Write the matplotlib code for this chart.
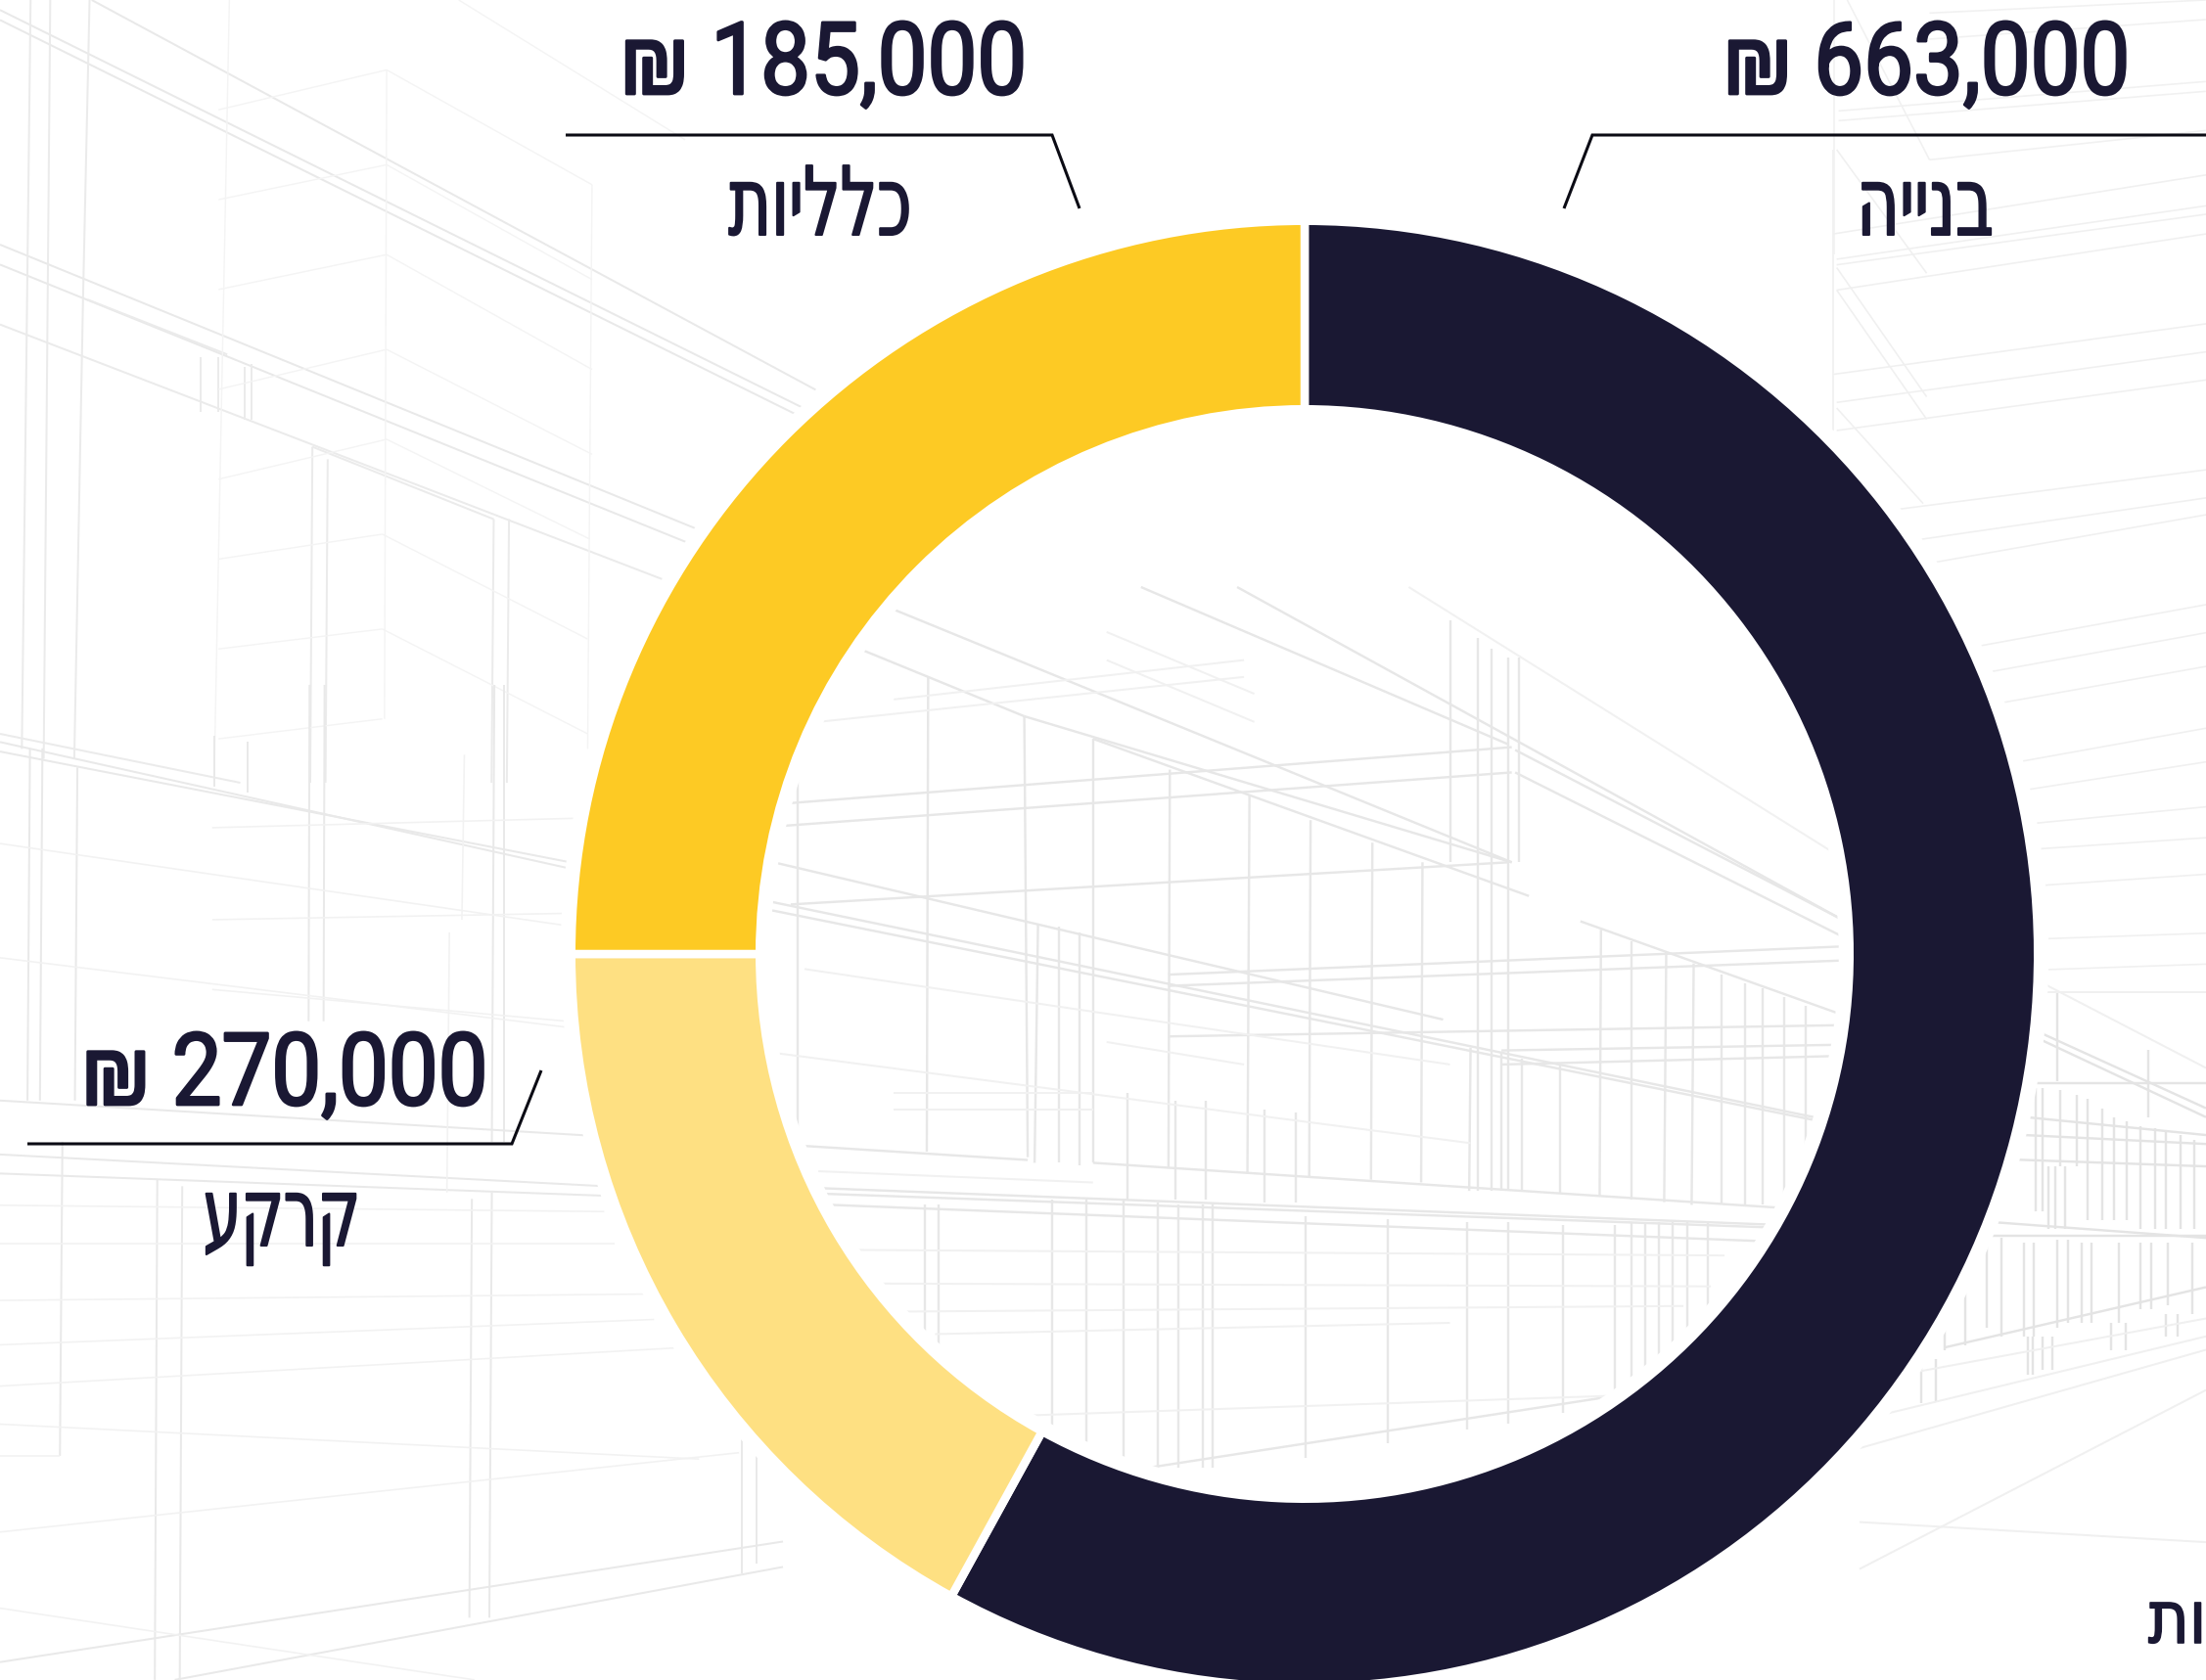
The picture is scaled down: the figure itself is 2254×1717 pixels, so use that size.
import matplotlib
matplotlib.use("Agg")
import matplotlib.pyplot as plt
from matplotlib.patches import Wedge
from matplotlib.patheffects import AbstractPathEffect
from matplotlib.transforms import Affine2D

# ---- chart data -------------------------------------------------------------
categories = ['בנייה', 'קרקע', 'כלליות']          # slice order, clockwise from 12 o'clock
slice_shares = [58, 17, 25]                        # slice sizes as drawn in the reference
slice_colors = ['#1A1833', '#FEE082', '#FDCA24']

label_names = ['כלליות', 'בנייה', 'קרקע']
label_values = [185000, 663000, 270000]
cut_off_label = 'כלליות'

W, H = 2254, 1717
INK = '#1A1833'
HEB = ['DejaVu Sans']
NUM = ['Roboto', 'Liberation Sans', 'DejaVu Sans']


class CondenseX(AbstractPathEffect):
    """Squeeze real text horizontally around x0 and thicken it a little."""
    def __init__(self, x0, sx, stroke=0.0):
        super().__init__()
        self.x0, self.sx, self.stroke = x0, sx, stroke

    def draw_path(self, renderer, gc, tpath, affine, rgbFace=None):
        a = affine + Affine2D().translate(-self.x0, 0).scale(self.sx, 1).translate(self.x0, 0)
        g = renderer.new_gc()
        g.copy_properties(gc)
        if self.stroke:
            g.set_linewidth(self.stroke)
            g.set_foreground(rgbFace, isRGBA=True)
        renderer.draw_path(g, tpath, a, rgbFace)
        g.restore()


fig = plt.figure(figsize=(W / 100, H / 100), dpi=100, facecolor='white')
bg = fig.add_axes([0, 0, 1, 1])
bg.set_xlim(0, W)
bg.set_ylim(H, 0)
bg.axis('off')


# ---- faint architectural drawing behind the chart (decoration, not data) -----
def sketch(group, ox, oy, sx, sy, color, lw=2.0, extend=1.0):
    for x0, y0, x1, y1 in group:
        x1e = x0 + (x1 - x0) * extend
        y1e = y0 + (y1 - y0) * extend
        bg.plot([ox + x0 / sx, ox + x1e / sx], [oy + y0 / sy, oy + y1e / sy],
                color=color, lw=lw * 0.72, solid_capstyle='butt', zorder=1)


# upper-left
sketch([(0, 40, 1568, 720), (210, 0, 1568, 640), (0, 20, 1568, 700), (0, 490, 1568, 1050), (0, 530, 1568, 1085)],
       0, 0, 2.24, 1.96, '#e9e9e9', extend=1.22)
sketch([(0, 650, 1530, 1165), (200, 600, 520, 710), (115, 0, 100, 1520), (70, 0, 50, 1500), (205, 0, 190, 600),
        (190, 600, 170, 1520), (715, 895, 710, 1568), (750, 920, 745, 1568), (1130, 1040, 1125, 1568),
        (1165, 1040, 1160, 1568), (715, 895, 1130, 1040), (0, 1470, 550, 1568), (460, 715, 460, 825),
        (500, 715, 500, 825), (560, 735, 560, 840), (575, 730, 575, 840)], 0, 0, 2.24, 1.96, '#ebebeb')
sketch([(525, 0, 490, 1568), (500, 220, 885, 140), (885, 140, 1355, 370), (500, 400, 885, 330), (885, 330, 1355, 560),
        (500, 580, 885, 510), (885, 510, 1355, 740), (500, 780, 885, 700), (885, 700, 1355, 910),
        (500, 960, 885, 880), (885, 880, 1350, 1080), (500, 1120, 875, 1070), (875, 1070, 1345, 1280),
        (500, 1300, 875, 1260), (875, 1260, 1345, 1470), (500, 1480, 875, 1440), (885, 140, 880, 1440),
        (1355, 370, 1345, 1500), (1050, 0, 1568, 280)], 0, 0, 2.24, 1.96, '#f4f4f4', lw=1.4)

# inside the ring
sketch([(240, 160, 238, 1005), (380, 230, 385, 1015), (480, 270, 480, 1025), (592, 325, 590, 1035),
        (708, 370, 705, 1045), (797, 415, 795, 1050), (887, 455, 885, 1055), (960, 490, 958, 1060),
        (1030, 820, 1028, 1075), (1075, 830, 1075, 1075), (1105, 840, 1105, 1075), (1160, 850, 1160, 1080),
        (1220, 610, 1218, 1085), (1265, 630, 1265, 1090), (1315, 650, 1312, 1095), (1355, 670, 1352, 1100),
        (1395, 690, 1395, 1100), (1430, 705, 1430, 1100), (1455, 715, 1455, 1100), (1487, 730, 1487, 1100),
        (1518, 745, 1518, 1100), (1000, 60, 1000, 490), (1040, 90, 1040, 1075), (1060, 110, 1060, 1075),
        (1085, 125, 1085, 1075), (1100, 125, 1100, 490), (50, 300, 50, 990), (400, 600, 395, 1025),
        (430, 605, 430, 1025), (460, 615, 460, 1030), (140, 110, 380, 230), (380, 230, 1090, 490),
        (190, 40, 1090, 490), (480, 270, 1115, 550), (550, 0, 1085, 280), (690, 0, 1568, 590), (1095, 290, 1568, 590),
        (1095, 330, 1568, 620), (10, 560, 1535, 945), (10, 575, 1535, 950), (1190, 595, 1568, 760),
        (15, 490, 990, 770), (35, 385, 1090, 285), (30, 425, 1090, 330), (40, 565, 1085, 490), (590, 690, 1568, 640),
        (590, 710, 1568, 665), (590, 800, 1568, 780), (1075, 825, 1560, 815), (1075, 850, 1560, 835),
        (60, 995, 385, 1020), (480, 1025, 1480, 1105), (80, 1070, 1465, 1135), (85, 1080, 1465, 1140),
        (100, 1100, 1465, 1165), (235, 1100, 235, 1330), (255, 1100, 255, 1350), (420, 1090, 420, 1500),
        (470, 1090, 470, 1530), (525, 1090, 525, 1568), (575, 1095, 575, 1568), (605, 1100, 605, 1568),
        (640, 1100, 640, 1568), (655, 1100, 655, 1568), (790, 1120, 790, 1550), (910, 1125, 910, 1525),
        (1025, 1130, 1025, 1500), (1085, 1130, 1085, 1490), (1165, 1135, 1165, 1470), (1240, 1135, 1240, 1440),
        (1265, 1130, 1265, 1420), (1285, 1130, 1285, 1410), (1305, 1130, 1305, 1400), (1325, 1130, 1325, 1380),
        (1345, 1130, 1345, 1360), (1375, 1130, 1375, 1330), (560, 1568, 1240, 1440), (530, 900, 530, 1090),
        (600, 915, 600, 1090), (645, 915, 645, 1090), (730, 930, 730, 1095), (775, 935, 775, 1095)],
       780, 600, 1.4255, 1.742, '#e7e7e7', lw=2.4)
sketch([(120, 1180, 1400, 1190), (170, 1240, 1380, 1245), (190, 1290, 1340, 1280), (250, 1330, 1000, 1310),
        (380, 1475, 1230, 1440), (940, 0, 1568, 480), (500, 80, 715, 190), (500, 130, 715, 240),
        (190, 200, 700, 130), (80, 240, 700, 160), (60, 680, 1000, 850), (20, 830, 1030, 990),
        (190, 900, 480, 900), (190, 930, 480, 930), (500, 810, 700, 850), (80, 1040, 480, 1060)],
       780, 600, 1.4255, 1.742, '#f1f1f1')

# lower-right facade
sketch([(550, 120, 1062, 290), (550, 135, 1062, 310), (530, 235, 1062, 235), (510, 310, 1062, 350),
        (505, 350, 1062, 370), (480, 405, 1062, 420), (415, 545, 1062, 580), (390, 575, 1062, 575),
        (605, 30, 605, 230), (885, 160, 885, 310), (540, 245, 540, 520), (560, 245, 560, 520), (615, 250, 615, 420),
        (665, 260, 665, 420), (700, 270, 700, 540), (745, 290, 745, 540), (780, 310, 780, 540), (820, 320, 820, 540),
        (860, 330, 860, 560), (905, 335, 905, 560), (940, 340, 940, 560), (985, 350, 985, 560), (1025, 360, 1025, 560),
        (580, 420, 580, 560), (600, 420, 600, 560), (630, 420, 630, 560), (505, 590, 505, 800), (535, 590, 535, 800),
        (390, 580, 390, 780), (435, 580, 435, 800), (605, 585, 605, 780), (640, 585, 640, 770), (680, 590, 680, 770),
        (710, 590, 710, 770), (795, 590, 795, 770), (860, 590, 860, 740), (895, 590, 895, 740), (945, 590, 945, 730),
        (1020, 590, 1020, 750), (260, 760, 260, 830), (325, 690, 325, 820), (190, 850, 190, 950), (235, 850, 235, 945),
        (515, 800, 515, 885), (530, 800, 530, 885), (560, 800, 560, 875), (590, 800, 590, 875), (770, 770, 770, 830),
        (815, 770, 815, 830), (940, 750, 940, 800), (975, 750, 975, 800), (260, 825, 1062, 690)],
       1900, 1000, 3, 2.187, '#e4e4e4', lw=2.4)
sketch([(550, 30, 1062, 30), (170, 880, 1062, 760), (70, 975, 1062, 800), (0, 1050, 1062, 830), (0, 1320, 1062, 920),
        (0, 1215, 1062, 1260), (560, 10, 1062, 200)], 1900, 1000, 3, 2.187, '#f0f0f0')

# lower-left
sketch([(0, 90, 1145, 290), (0, 105, 1145, 280), (60, 100, 55, 655), (85, 100, 80, 655), (155, 130, 150, 655),
        (620, 0, 618, 530), (650, 0, 648, 530), (990, 0, 985, 720), (1010, 0, 1010, 720), (430, 80, 430, 160),
        (495, 90, 495, 170), (315, 780, 310, 1568), (365, 790, 360, 1568), (945, 810, 940, 1470), (985, 800, 980, 1470),
        (1485, 1180, 1485, 1400), (1515, 1210, 1515, 1385), (0, 655, 1175, 710), (0, 740, 1210, 790), (0, 770, 1210, 805),
        (0, 1540, 1568, 1350), (350, 1568, 1568, 1390), (125, 720, 120, 1215)], 0, 700, 1.96, 1.542, '#e9e9e9')
sketch([(0, 250, 1140, 380), (0, 430, 1140, 540), (0, 880, 1230, 880), (0, 970, 1290, 960), (0, 1040, 1310, 1000),
        (0, 1105, 1350, 1045), (0, 1165, 1400, 1220), (0, 1335, 1480, 1210), (0, 1455, 950, 1568),
        (425, 225, 1160, 210), (425, 370, 1135, 360), (425, 480, 1135, 530), (900, 390, 895, 800), (930, 110, 925, 370),
        (0, 820, 1210, 830), (0, 1215, 120, 1215)], 0, 700, 1.96, 1.542, '#f2f2f2', lw=1.6)

# upper-right
sketch([(490, 190, 1568, 85), (500, 235, 1568, 140), (500, 245, 1568, 155), (500, 290, 1568, 190), (490, 440, 1568, 350),
        (500, 490, 1568, 400), (500, 540, 1568, 450), (680, 680, 1568, 610), (730, 735, 1568, 660), (780, 775, 1568, 690),
        (900, 925, 1568, 850), (940, 970, 1568, 900), (975, 1025, 1568, 960), (1025, 1130, 1568, 1070),
        (1045, 1180, 1568, 1130), (1060, 1240, 1568, 1210), (1080, 1285, 1568, 1265), (1090, 1350, 1568, 1330),
        (1095, 1445, 1568, 1435), (1100, 1500, 1568, 1490), (490, 40, 490, 540), (500, 40, 760, 260), (500, 250, 760, 480),
        (500, 290, 760, 520), (500, 500, 750, 670)], 1700, 130, 2.83, 1.742, '#f0f0f0', lw=1.6)
sketch([(930, 40, 1568, 0), (930, 120, 1568, 60), (720, 340, 1568, 250), (720, 370, 1568, 280), (930, 490, 1568, 400),
        (710, 0, 710, 780), (740, 0, 930, 490)], 1560, 0, 2.26, 3, '#f1f1f1', lw=1.6)

# ---- ring ---------------------------------------------------------------------
CX, CY = 1333, 975
GAP = 8.5                   # px of white between slices
R_OUT = 745 + GAP / 2
R_IN = 561 - GAP / 2
HALO = 11
SPAN = R_OUT + 30
ax = fig.add_axes([(CX - SPAN) / W, 1 - (CY + SPAN) / H, 2 * SPAN / W, 2 * SPAN / H])
ax.patch.set_alpha(0)
ax.set_clip_on(False)
ax.add_patch(Wedge((0, 0), R_OUT + HALO, 0, 360, width=R_OUT - R_IN + 2 * HALO, fc='white', ec='none', clip_on=False))
wedges, _ = ax.pie(slice_shares, colors=slice_colors, startangle=90, counterclock=False, radius=R_OUT,
                   wedgeprops=dict(width=R_OUT - R_IN, edgecolor='white', linewidth=GAP * 0.72), labels=None)
for w in wedges:
    w.set_clip_on(False)
ax.set_xlim(-SPAN, SPAN)
ax.set_ylim(-SPAN, SPAN)
ax.set_aspect('equal')
ax.axis('off')

# ---- labels ---------------------------------------------------------------------
txt = fig.add_axes([0, 0, 1, 1])
txt.set_xlim(0, W)
txt.set_ylim(H, 0)
txt.axis('off')
txt.patch.set_alpha(0)

fig.canvas.draw()
renderer = fig.canvas.get_renderer()


def fitted(x, y, s, family, size, target_w, weight='normal', stroke=0.0, ha='center', sx=None):
    t = txt.text(x, y, s, family=family, fontsize=size, color=INK, ha=ha, va='baseline', weight=weight)
    if sx is None:
        sx = target_w / t.get_window_extent(renderer).width
    t.set_path_effects([CondenseX(x, sx, stroke)])
    return t


def money(v):
    return '₪ ' + format(v, ',')


VALUE_X = [841.5, 1968.5, 291]
VALUE_Y = [96, 96, 1129]
VALUE_W = [415, 415, 415]
NAME_X = [838, 1967, 288]
NAME_Y = [240, 240, 1273]
NAME_W = [187, 140, 160]
for name, val, vx, vy, vw, nx, ny, nw in zip(label_names, label_values, VALUE_X, VALUE_Y, VALUE_W, NAME_X, NAME_Y, NAME_W):
    fitted(vx, vy, money(val), NUM, 74, vw, stroke=2.0)
    fitted(nx, ny, name[::-1], HEB, 70, nw, stroke=1.5)

fitted(2195, 1679, cut_off_label[::-1], HEB, 54, 0, ha='left', sx=0.85, stroke=1.2)

# leader lines
LEADERS = [((578, 1075, 1103), (138, 138, 213)),
           ((1598, 1627, 2254), (213, 138, 138)),
           ((28, 523, 553), (1169, 1169, 1094))]
for xs, ys in LEADERS:
    txt.plot(xs, ys, color='#0b0b14', lw=2.2, solid_joinstyle='miter', solid_capstyle='butt')

fig.savefig('out.png', dpi=100, facecolor='white')
